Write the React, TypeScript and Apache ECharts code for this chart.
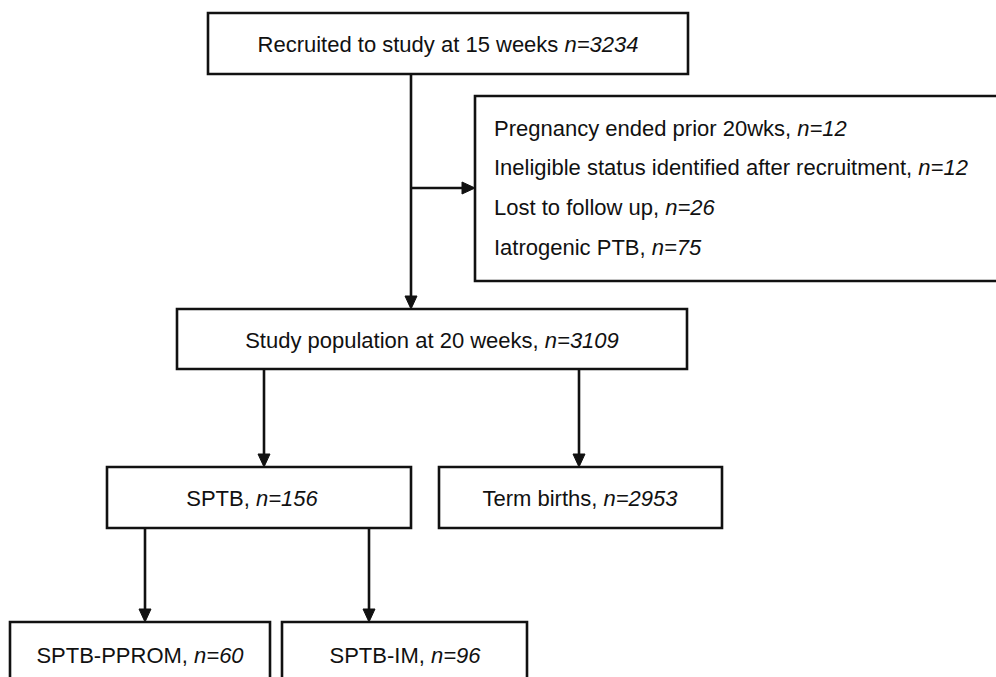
import React, { useEffect, useRef } from "react";
import * as echarts from "echarts";

// ---- content (texts and counts) ----
const boxLabels = [
  "Recruited to study at 15 weeks",
  "Study population at 20 weeks,",
  "SPTB,",
  "Term births,",
  "SPTB-PPROM,",
  "SPTB-IM,",
];
const boxCounts = [3234, 3109, 156, 2953, 60, 96];
const exclusionLabels = [
  "Pregnancy ended prior 20wks,",
  "Ineligible status identified after recruitment,",
  "Lost to follow up,",
  "Iatrogenic PTB,",
];
const exclusionCounts = [12, 12, 26, 75];

// ---- layout (pixels) ----
const boxRects = [
  [208, 13, 480, 61],
  [177, 309, 510, 60],
  [107, 467, 304, 61],
  [439, 467, 283, 61],
  [10, 622, 260, 70],
  [282, 622, 245, 70],
];
const boxTextCenters = [
  [448, 44],
  [432, 340],
  [252, 498],
  [580, 498],
  [140, 655],
  [405, 655],
];
const exclusionRect = [475, 96, 540, 185];
const exclusionTextX = 494;
const exclusionTextY = [128, 167, 207, 247];
// connectors: [x1, y1, x2, y2], arrow at end
const connectors = [
  [411, 74, 411, 309],
  [411, 188, 475, 188],
  [264, 369, 264, 467],
  [579, 369, 579, 467],
  [145, 528, 145, 622],
  [369, 528, 369, 622],
];

const INK = "#111";
const LW = 2.6;
const FONT = "'Liberation Sans', Arial, Helvetica, sans-serif";
const FS = 22;

const rich = {
  r: { fontSize: FS, fontFamily: FONT, fill: INK },
  i: { fontSize: FS, fontFamily: FONT, fill: INK, fontStyle: "italic" },
};

function arrowHead(x1: number, y1: number, x2: number, y2: number) {
  const len = 13;
  const half = 6;
  const dx = x2 - x1;
  const dy = y2 - y1;
  const d = Math.sqrt(dx * dx + dy * dy) || 1;
  const ux = dx / d;
  const uy = dy / d;
  const bx = x2 - ux * len;
  const by = y2 - uy * len;
  return [
    [x2, y2],
    [bx - uy * half, by + ux * half],
    [bx + uy * half, by - ux * half],
  ];
}

export default function App() {
  const ref = useRef<HTMLDivElement>(null);
  useEffect(() => {
    if (!ref.current) return;
    const chart = echarts.init(ref.current, undefined, { renderer: "svg" });
    const elements: any[] = [];

    // connectors
    connectors.forEach(([x1, y1, x2, y2]) => {
      const head = arrowHead(x1, y1, x2, y2);
      const ux = Math.sign(x2 - x1);
      const uy = Math.sign(y2 - y1);
      elements.push({
        type: "line",
        shape: { x1, y1, x2: x2 - ux * 10, y2: y2 - uy * 10 },
        style: { stroke: INK, lineWidth: LW },
        z: 1,
      });
      elements.push({
        type: "polygon",
        shape: { points: head },
        style: { fill: INK, stroke: INK, lineWidth: 1 },
        z: 3,
      });
    });

    // main boxes
    boxRects.forEach(([x, y, w, h], k) => {
      elements.push({
        type: "rect",
        shape: { x, y, width: w, height: h },
        style: { fill: "#fff", stroke: INK, lineWidth: LW },
        z: 2,
      });
      const [cx, cy] = boxTextCenters[k];
      elements.push({
        type: "text",
        x: cx,
        y: cy,
        z: 4,
        style: {
          text: `{r|${boxLabels[k]} }{i|n=${boxCounts[k]}}`,
          rich,
          fontSize: FS,
          fontFamily: FONT,
          fill: INK,
          textAlign: "center",
          textVerticalAlign: "middle",
          align: "center",
          verticalAlign: "middle",
        },
      });
    });

    // exclusion box
    const [ex, ey, ew, eh] = exclusionRect;
    elements.push({
      type: "rect",
      shape: { x: ex, y: ey, width: ew, height: eh },
      style: { fill: "#fff", stroke: INK, lineWidth: LW },
      z: 2,
    });
    exclusionLabels.forEach((lab, k) => {
      elements.push({
        type: "text",
        x: exclusionTextX,
        y: exclusionTextY[k],
        z: 4,
        style: {
          text: `{r|${lab} }{i|n=${exclusionCounts[k]}}`,
          rich,
          fontSize: FS,
          fontFamily: FONT,
          fill: INK,
          textAlign: "left",
          textVerticalAlign: "middle",
          align: "left",
          verticalAlign: "middle",
        },
      });
    });

    chart.setOption({
      animation: false,
      backgroundColor: "#fff",
      graphic: { elements },
    });
    return () => chart.dispose();
  }, []);

  return (
    <div
      ref={ref}
      style={{ position: "absolute", left: 0, top: 0, width: 996, height: 677 }}
    />
  );
}
